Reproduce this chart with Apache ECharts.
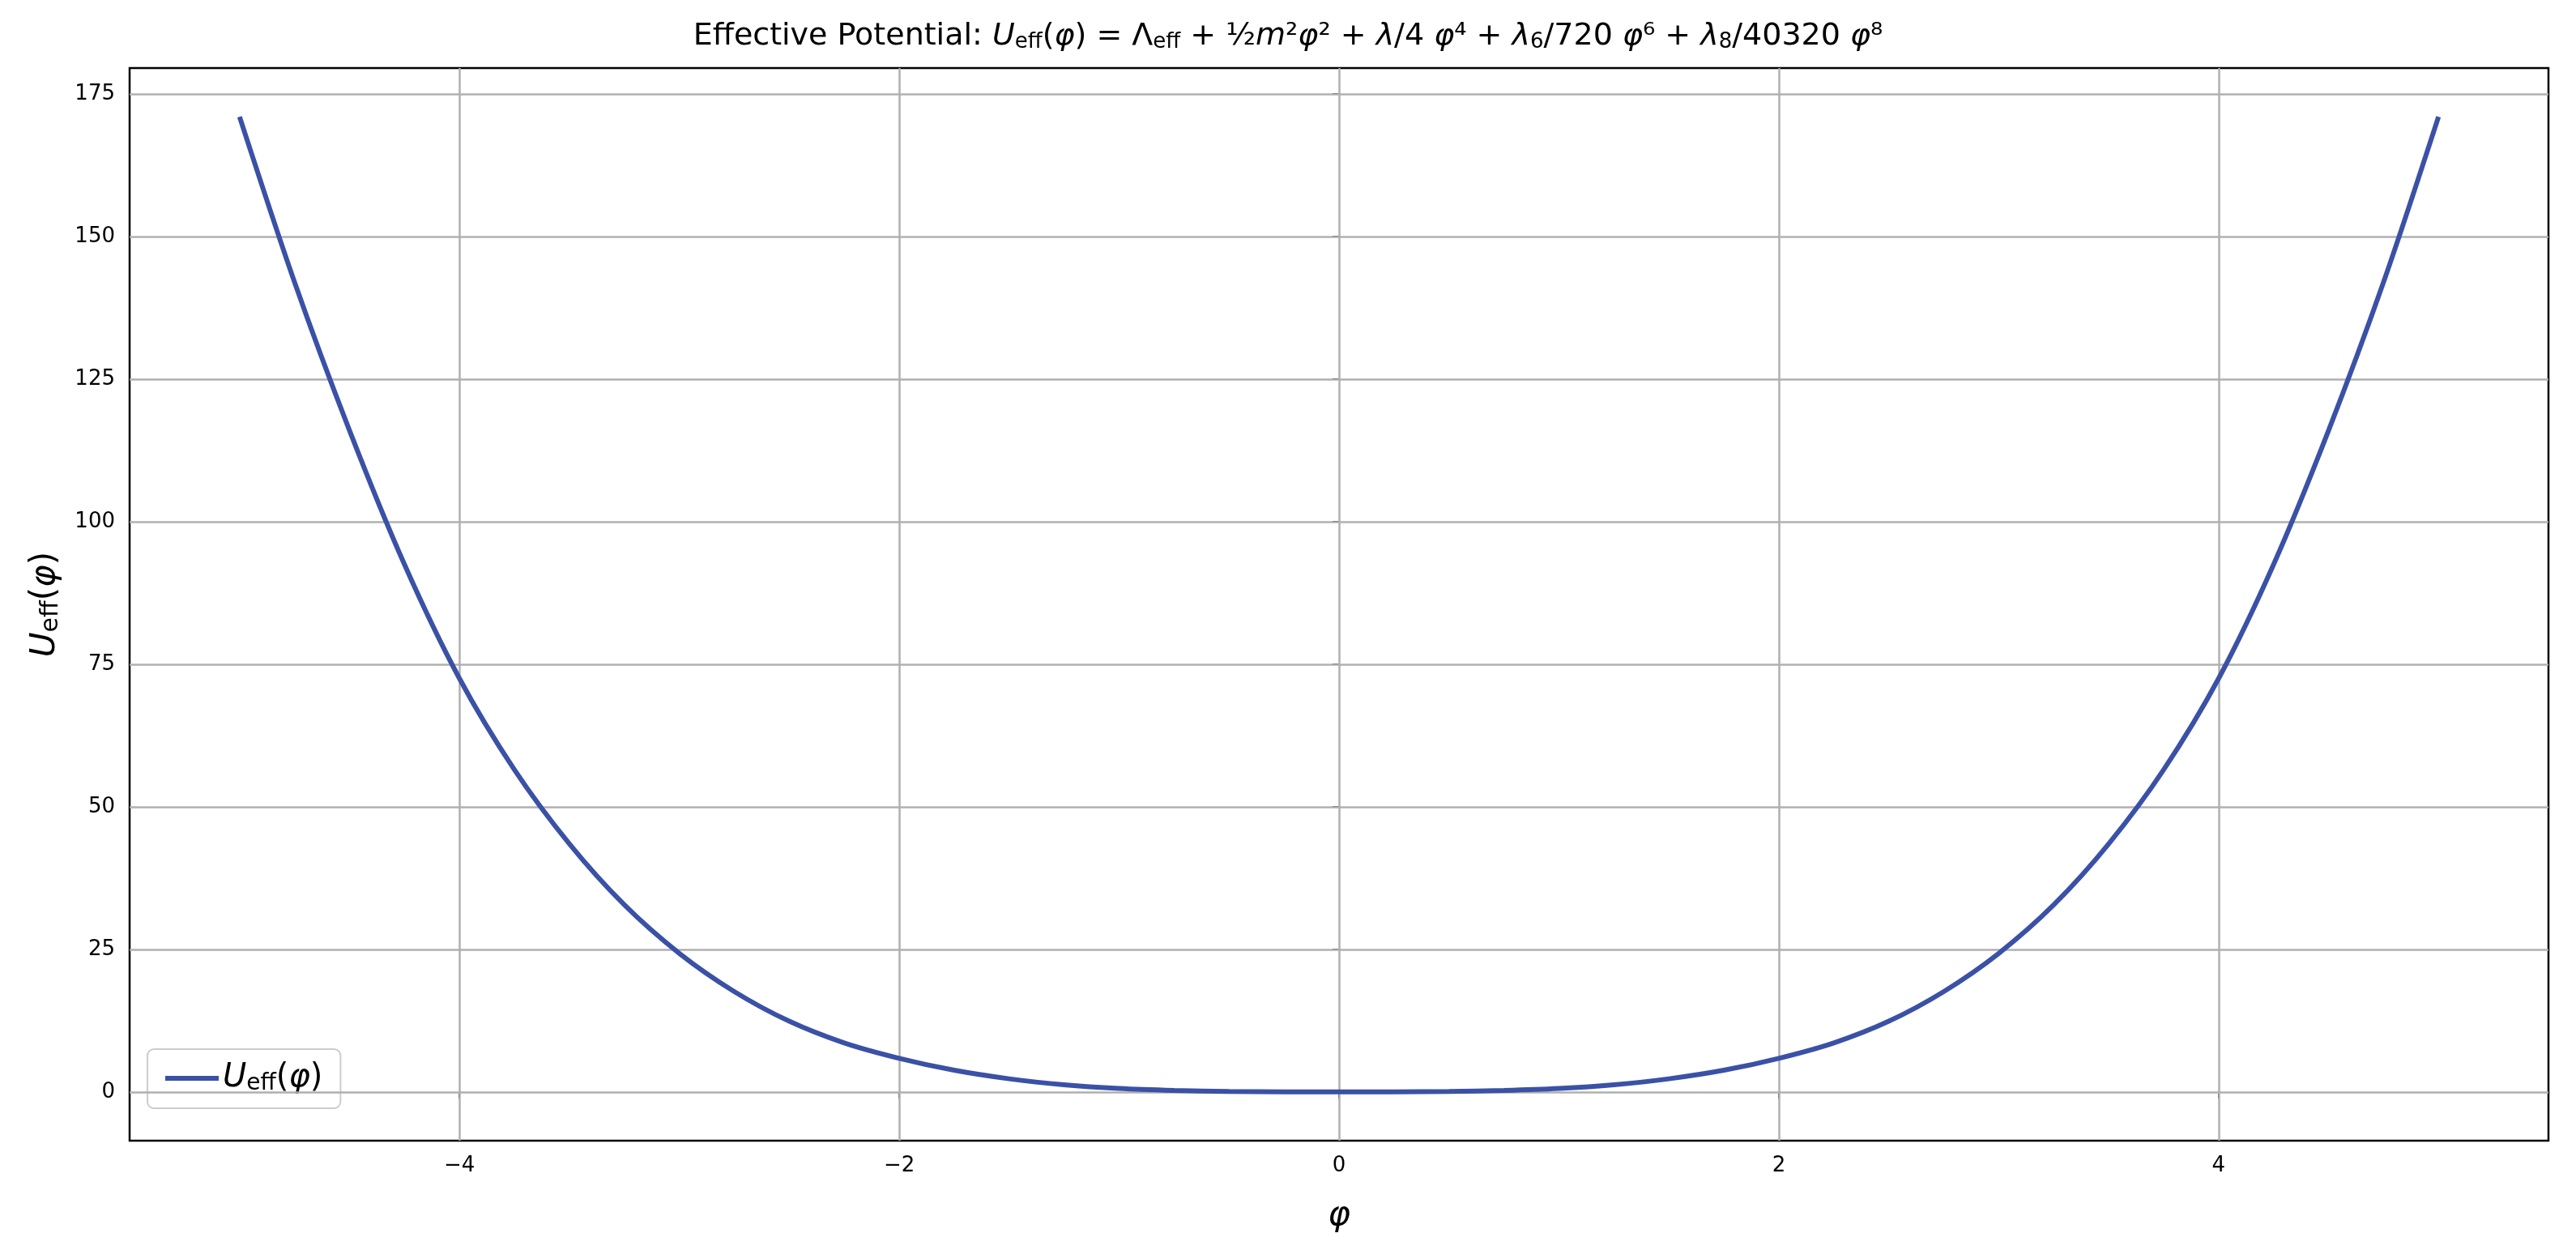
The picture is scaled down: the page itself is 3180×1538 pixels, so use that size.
<!DOCTYPE html>
<html><head><meta charset="utf-8">
<script src="https://cdn.jsdelivr.net/npm/echarts@6/dist/echarts.min.js"></script>
<style>html,body{margin:0;padding:0;background:#fff}#c{width:3180px;height:1538px}</style>
</head><body><div id="c"></div>
<script>
const phi = [-5,-4.75,-4.5,-4.25,-4,-3.75,-3.5,-3.25,-3,-2.75,-2.5,-2.25,-2,-1.75,-1.5,-1.25,-1,-0.75,-0.5,-0.25,0,0.25,0.5,0.75,1,1.25,1.5,1.75,2,2.25,2.5,2.75,3,3.25,3.5,3.75,4,4.25,4.5,4.75,5];
const U   = [171,142,116,92.5,72.5,56.5,43.5,32.8,24.3,17.6,12.4,8.6,5.9,3.8,2.3,1.25,0.6,0.25,0.07,0.01,0,0.01,0.07,0.25,0.6,1.25,2.3,3.8,5.9,8.6,12.4,17.6,24.3,32.8,43.5,56.5,72.5,92.5,116,142,171];
const xTicks = [-4,-2,0,2,4];
const yTicks = [0,25,50,75,100,125,150,175];
const F = 'DejaVu Sans';
const chart = echarts.init(document.getElementById('c'));
chart.setOption({
  animation:false,
  title:{text:'{t|Effective Potential: }{i|U}{s|eff}{t|(}{i|φ}{t|) = Λ}{s|eff}{t| + ½}{i|m}{t|²}{i|φ}{t|² + }{i|λ}{t|/4 }{i|φ}{t|⁴ + }{i|λ}{s|6}{t|/720 }{i|φ}{t|⁶ + }{i|λ}{s|8}{t|/40320 }{i|φ}{t|⁸}',
    left:'center', top:20,
    textStyle:{fontWeight:'normal',rich:{t:{fontFamily:F,fontSize:38,fontWeight:'normal',color:'#000'},i:{fontFamily:F,fontSize:38,fontWeight:'normal',fontStyle:'italic',color:'#000'},s:{fontFamily:F,fontSize:26,fontWeight:'normal',color:'#000',padding:[14,0,0,0]}}}},
  grid:{left:160,right:34,top:84,bottom:130,show:true,borderColor:'#000',borderWidth:2.5,backgroundColor:'transparent'},
  legend:{left:182,bottom:170,orient:'vertical',backgroundColor:'#fff',borderColor:'#ccc',borderWidth:2,borderRadius:8,padding:[16,22],itemWidth:66,itemHeight:6,itemGap:10,
    data:[{name:'U',icon:'rect'}],
    formatter:()=> '{i|U}{s|eff}{t|(}{i|φ}{t|)}',
    textStyle:{rich:{t:{fontFamily:F,fontSize:40,color:'#000'},i:{fontFamily:F,fontSize:40,fontStyle:'italic',color:'#000'},s:{fontFamily:F,fontSize:28,color:'#000',padding:[14,0,0,0]}}}},
  xAxis:{type:'value',min:-5.5,max:5.5,interval:2,
    name:'φ',nameLocation:'middle',nameGap:72,nameTextStyle:{fontFamily:F,fontSize:42,fontStyle:'italic',color:'#000'},
    axisLine:{show:false},
    axisLabel:{fontFamily:F,fontSize:26,color:'#000',margin:18,customValues:xTicks,formatter:v=>String(v).replace('-','−')},
    axisTick:{show:true,customValues:xTicks,length:8,lineStyle:{color:'#000',width:2}},
    splitLine:{show:false}},
  yAxis:{type:'value',min:-8.55,max:179.55,
    name:'{i|U}{s|eff}{t|(}{i|φ}{t|)}',nameLocation:'middle',nameGap:82,
    nameTextStyle:{rich:{t:{fontFamily:F,fontSize:42,color:'#000'},i:{fontFamily:F,fontSize:42,fontStyle:'italic',color:'#000'},s:{fontFamily:F,fontSize:30,color:'#000',padding:[14,0,0,0]}}},
    axisLine:{show:false},
    axisLabel:{fontFamily:F,fontSize:26,color:'#000',margin:18,customValues:yTicks},
    axisTick:{show:true,customValues:yTicks,length:8,lineStyle:{color:'#000',width:2}},
    splitLine:{show:false}},
  series:[
    {type:'line',name:'grid-x',data:[],markLine:{silent:true,symbol:'none',label:{show:false},lineStyle:{color:'#b0b0b0',width:2.5,type:'solid'},
      data:xTicks.map(v=>({xAxis:v})).concat(yTicks.map(v=>({yAxis:v})))}},
    {type:'line',name:'U',data:phi.map((x,i)=>[x,U[i]]),smooth:0.3,showSymbol:false,
      lineStyle:{color:'#3a51a6',width:6},itemStyle:{color:'#3a51a6'},z:5}
  ]
});
</script></body></html>
